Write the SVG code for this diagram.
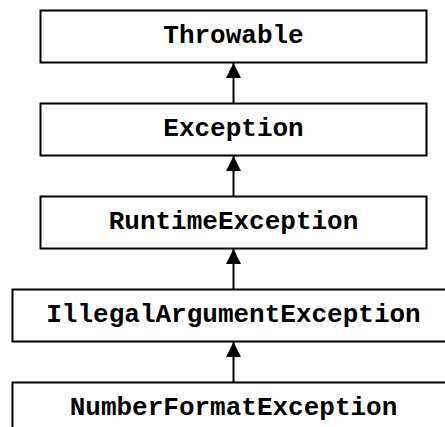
<svg xmlns="http://www.w3.org/2000/svg" width="445" height="427" viewBox="0 0 445 427">
<style>
.box{fill:#fff;stroke:#000;stroke-width:2}
.lbl{font-family:"Liberation Mono","Courier New",monospace;font-weight:bold;font-size:26px;text-anchor:middle;fill:#000}
.edge{stroke:#000;stroke-width:2;fill:none}
</style>
<defs>
<marker id="arr" markerUnits="userSpaceOnUse" markerWidth="16" markerHeight="16" viewBox="0 0 16 16" refX="15" refY="8" orient="auto">
<path d="M0,0.5 L15,8 L0,15.5 Z" fill="#000"/>
</marker>
</defs>
<rect width="445" height="427" fill="#fff"/>
<g id="throwable"><rect class="box" x="40.5" y="10.5" width="386" height="52"/><text class="lbl" x="233.5" y="43">Throwable</text></g>
<g id="exception"><rect class="box" x="40.5" y="103.5" width="386" height="52"/><text class="lbl" x="233.5" y="136">Exception</text></g>
<g id="runtime"><rect class="box" x="40.5" y="196.5" width="386" height="52"/><text class="lbl" x="233.5" y="229">RuntimeException</text></g>
<g id="illegal"><rect class="box" x="12.5" y="289.5" width="443" height="52"/><text class="lbl" x="233.5" y="322">IllegalArgumentException</text></g>
<g id="numberformat"><rect class="box" x="12.5" y="382.5" width="443" height="52"/><text class="lbl" x="233.5" y="415">NumberFormatException</text></g>
<g id="connectors">
<line class="edge" x1="233.5" y1="103.5" x2="233.5" y2="63" marker-end="url(#arr)"/>
<line class="edge" x1="233.5" y1="196.5" x2="233.5" y2="156" marker-end="url(#arr)"/>
<line class="edge" x1="233.5" y1="289.5" x2="233.5" y2="249" marker-end="url(#arr)"/>
<line class="edge" x1="233.5" y1="382.5" x2="233.5" y2="342" marker-end="url(#arr)"/>
</g>
</svg>
